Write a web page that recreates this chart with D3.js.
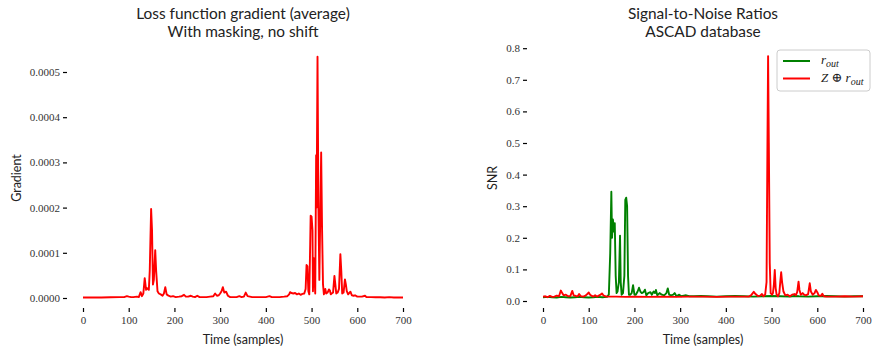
<!DOCTYPE html>
<html>
<head>
<meta charset="utf-8">
<script src="https://cdn.jsdelivr.net/npm/d3@7"></script>
<style>
  body { margin: 0; background: #fff; }
  svg { display: block; }
  .tick text { font-family: "Liberation Serif", "DejaVu Serif", serif; font-size: 11px; fill: #333; }
  .tick line { stroke: #000; stroke-width: 1.2; }
  .title { font-family: Lato, "DejaVu Sans", sans-serif; font-size: 15.4px; fill: #222; }
  .axis-label { font-family: Lato, "DejaVu Sans", sans-serif; font-size: 12.5px; fill: #222; }
  .legend-text { font-family: "Liberation Serif", "DejaVu Serif", serif; font-style: italic; font-size: 13px; fill: #222; }
</style>
</head>
<body>
<div id="chart"></div>
<script>
var svgWidth = 872;
var svgHeight = 350;

// left panel: average loss gradient (values in units of 1e-6)
var gradSamples = [0, 20, 40, 60, 80, 90, 96, 100, 105, 110, 118, 122, 126, 129, 132, 135, 138, 140, 142, 144,
  146, 149, 151, 153, 155, 158, 160, 163, 166, 170, 174, 177, 180, 183, 187, 192, 197, 203, 210, 216,
  221, 225, 230, 236, 240, 245, 250, 255, 262, 270, 278, 285, 289, 293, 297, 300, 303, 306, 309, 313,
  317, 322, 330, 336, 342, 347, 352, 356, 360, 365, 370, 380, 390, 400, 408, 413, 420, 430, 440, 447,
  451, 453, 456, 460, 464, 468, 472, 476, 480, 484, 487, 489, 491, 493, 495, 497, 498, 500, 502, 503,
  505, 506, 508, 510, 511, 513, 515, 517, 519, 521, 523, 525, 527, 530, 532, 535, 538, 540, 542, 544,
  547, 550, 552, 554, 557, 560, 563, 565, 567, 570, 573, 575, 577, 580, 585, 588, 592, 595, 600, 605,
  610, 617, 620, 630, 640, 650, 660, 670, 680, 690, 700];
var gradValues = [1, 1, 1, 1.5, 2, 2, 4, 3, 2, 2, 3, 2, 13, 4, 10, 44, 18, 22, 20, 18,
  60, 197, 150, 30, 40, 106, 60, 15, 10, 8, 5, 10, 24, 8, 5, 3, 4, 2, 3, 4,
  7, 3, 3, 5, 3, 2, 5, 2, 2, 2, 3, 4, 10, 5, 6, 10, 15, 24, 12, 14,
  5, 2, 2, 2, 4, 2, 3, 12, 4, 3, 2, 2, 2, 2, 4, 2, 2, 2, 3, 4,
  8, 13, 11, 10, 11, 8, 10, 7, 9, 10, 20, 73, 70, 15, 8, 120, 182, 180, 150, 15,
  88, 60, 10, 316, 200, 534, 200, 40, 180, 322, 150, 30, 8, 20, 10, 12, 19, 17, 8, 10,
  12, 49, 30, 10, 12, 20, 97, 60, 10, 12, 41, 30, 15, 8, 14, 6, 5, 6, 3, 3,
  3, 5, 2, 2, 1.5, 1.5, 1, 2, 1, 1, 1];
var gradTicks = [0, 0.0001, 0.0002, 0.0003, 0.0004, 0.0005];

// right panel: SNR curves (values in units of 1e-3)
var rOutSamples = [0, 10, 20, 30, 40, 50, 60, 70, 80, 90, 100, 110, 120, 130, 140, 144, 147, 149.5, 151, 153,
  155, 157, 159, 161, 163, 166, 168.5, 170, 172, 175, 178, 180, 182, 184, 186, 188, 191, 194, 197, 200,
  203, 207, 210, 213, 216, 220, 223, 226, 230, 235, 238, 242, 245, 247, 250, 255, 260, 265, 270, 273,
  276, 280, 285, 288, 292, 298, 302, 308, 313, 320, 330, 345, 360, 380, 400, 420, 440, 460, 480, 500,
  520, 540, 550, 560, 580, 600, 620, 640, 660, 680, 700];
var rOutValues = [12, 13, 12, 11, 13, 12, 11, 12, 13, 12, 11, 12, 13, 12, 13, 20, 150, 346, 200, 258,
  220, 246, 80, 25, 30, 60, 207, 60, 20, 25, 80, 320, 327, 300, 80, 20, 20, 25, 50, 20,
  20, 30, 42, 30, 25, 28, 36, 18, 25, 28, 20, 30, 25, 35, 18, 25, 20, 18, 25, 40,
  20, 18, 20, 25, 15, 20, 15, 17, 18, 15, 15, 16, 15, 14, 15, 16, 15, 14, 15, 16,
  15, 14, 16, 15, 14, 15, 16, 15, 14, 15, 15];

var zrOutSamples = [0, 5, 10, 15, 20, 25, 30, 35, 39, 42, 45, 50, 55, 60, 64, 67, 72, 76, 79, 83,
  88, 93, 97, 100, 103, 107, 110, 114, 118, 122, 126, 129, 132, 136, 140, 160, 180, 200, 230, 260,
  290, 320, 350, 380, 410, 440, 450, 455, 461, 465, 470, 475, 479, 482, 486, 489, 491, 492.4, 494, 496,
  498, 501, 503, 505, 507, 509, 511, 514, 517, 519, 521, 523, 526, 530, 535, 540, 545, 550, 553, 556,
  559, 561, 564, 568, 571, 575, 580, 583.5, 586, 590, 594, 597, 600, 603, 608, 611, 614, 620, 640, 660,
  680, 700];
var zrOutValues = [14, 15, 12, 16, 13, 14, 17, 15, 33, 25, 18, 20, 15, 16, 32, 18, 16, 15, 22, 15,
  14, 17, 22, 27, 20, 16, 14, 18, 14, 17, 20, 24, 18, 15, 14, 14, 13, 14, 13, 14,
  13, 14, 14, 13, 14, 14, 14, 18, 29, 22, 16, 17, 22, 15, 20, 60, 500, 775, 500, 120,
  25, 20, 25, 50, 98, 40, 20, 15, 25, 60, 91, 60, 30, 18, 20, 15, 20, 22, 18, 28,
  61, 35, 20, 25, 20, 18, 22, 56, 30, 20, 25, 35, 28, 18, 16, 23, 15, 14, 14, 15,
  14, 15];
var snrTicks = [0, 0.1, 0.2, 0.3, 0.4, 0.5, 0.6, 0.7, 0.8];
var timeTicks = [0, 100, 200, 300, 400, 500, 600, 700];

var svg = d3.select("#chart")
  .append("svg")
  .attr("width", svgWidth)
  .attr("height", svgHeight);

function drawPanel(opts) {
  var x = d3.scaleLinear().domain([0, 700]).range([opts.left, opts.left + 320]);
  var y = d3.scaleLinear().domain(opts.yDomain).range(opts.yRange);

  var xAxis = svg.append("g")
    .attr("transform", "translate(0, 308)")
    .call(d3.axisBottom(x).tickValues(timeTicks).tickSize(4).tickPadding(4).tickFormat(d3.format("d")));
  xAxis.select(".domain").remove();

  var yAxis = svg.append("g")
    .attr("transform", `translate(${opts.yAxisX}, 0)`)
    .call(d3.axisLeft(y).tickValues(opts.yTicks).tickSize(4).tickPadding(3).tickFormat(opts.yFormat));
  yAxis.select(".domain").remove();

  opts.series.forEach(function(s) {
    var pts = s.samples.map((t, i) => [t, s.values[i] * s.unit]);
    svg.append("path")
      .datum(pts)
      .attr("fill", "none")
      .attr("stroke", s.color)
      .attr("stroke-width", 1.9)
      .attr("stroke-linejoin", "round")
      .attr("d", d3.line().x(d => x(d[0])).y(d => y(d[1])));
  });

  // titles
  opts.title.forEach(function(line, i) {
    svg.append("text")
      .attr("class", "title")
      .attr("x", opts.titleX)
      .attr("y", 19 + i * 18)
      .attr("text-anchor", "middle")
      .text(line);
  });

  svg.append("text")
    .attr("class", "axis-label")
    .attr("x", opts.left + 160)
    .attr("y", 344)
    .attr("text-anchor", "middle")
    .text("Time (samples)");

  svg.append("text")
    .attr("class", "axis-label")
    .attr("transform", `translate(${opts.yLabelX}, 178) rotate(-90)`)
    .attr("text-anchor", "middle")
    .text(opts.yLabel);
}

drawPanel({
  left: 83,
  yDomain: [0, 0.0005],
  yRange: [298, 72],
  yTicks: gradTicks,
  yFormat: d3.format(".4f"),
  yAxisX: 67,
  yLabelX: 21,
  yLabel: "Gradient",
  titleX: 243,
  title: ["Loss function gradient (average)", "With masking, no shift"],
  series: [{ samples: gradSamples, values: gradValues, unit: 1e-6, color: "#ff0000" }]
});

drawPanel({
  left: 543,
  yDomain: [0, 0.8],
  yRange: [301, 48.2],
  yTicks: snrTicks,
  yFormat: d3.format(".1f"),
  yAxisX: 527,
  yLabelX: 497,
  yLabel: "SNR",
  titleX: 703,
  title: ["Signal-to-Noise Ratios", "ASCAD database"],
  series: [
    { samples: rOutSamples, values: rOutValues, unit: 1e-3, color: "#008000" },
    { samples: zrOutSamples, values: zrOutValues, unit: 1e-3, color: "#ff0000" }
  ]
});

// legend
var legend = svg.append("g").attr("transform", "translate(777, 50)");
legend.append("rect")
  .attr("width", 93).attr("height", 41)
  .attr("rx", 3)
  .attr("fill", "#fff").attr("fill-opacity", 0.85)
  .attr("stroke", "#ccc");
var legendItems = [
  { color: "#008000", label: ["r", "out"] },
  { color: "#ff0000", label: ["Z \u2295 r", "out"] }
];
legendItems.forEach(function(item, i) {
  var ly = 11 + i * 17.5;
  legend.append("line")
    .attr("x1", 6).attr("x2", 33)
    .attr("y1", ly).attr("y2", ly)
    .attr("stroke", item.color).attr("stroke-width", 2);
  var t = legend.append("text")
    .attr("class", "legend-text")
    .attr("x", 44).attr("y", ly + 3);
  t.append("tspan").text(item.label[0]);
  t.append("tspan").attr("dy", 3).attr("font-size", "10px").text(item.label[1]);
});
</script>
</body>
</html>
